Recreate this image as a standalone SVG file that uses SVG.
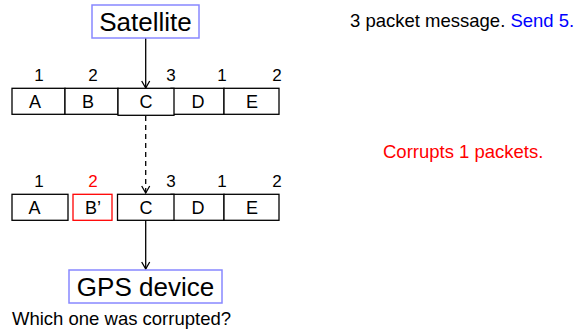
<svg xmlns="http://www.w3.org/2000/svg" width="575" height="331" viewBox="0 0 575 331">
<style>
text{font-family:"Liberation Sans",Arial,sans-serif;fill:#000}
.big{font-size:26px;text-anchor:middle}
.lbl{font-size:18px;text-anchor:middle}
.num{font-size:17px;text-anchor:middle}
.note{font-size:18.5px}
.pk{fill:#fff;stroke:#000;stroke-width:1.3}
.node{fill:#fff;stroke:#8888ff;stroke-width:1.5}
.red{fill:#ff0000}
.blue{fill:#0000ff}
.conn{stroke:#000;stroke-width:1.3;fill:none}
</style>
<defs>
<marker id="ah" markerWidth="10" markerHeight="10" refX="8" refY="5" orient="auto" markerUnits="userSpaceOnUse">
<path d="M1,1 L8,5 L1,9" fill="none" stroke="#000" stroke-width="1.3"/>
</marker>
</defs>
<g id="connectors">
<line class="conn" x1="145.7" y1="38" x2="145.7" y2="88" marker-end="url(#ah)"/>
<line class="conn" x1="145.7" y1="116" x2="145.7" y2="193" stroke-dasharray="5,4" marker-end="url(#ah)"/>
<line class="conn" x1="145.7" y1="220" x2="145.7" y2="269" marker-end="url(#ah)"/>
</g>
<g id="satellite">
<rect class="node" x="92" y="5" width="107" height="33"/>
<text class="big" x="145.5" y="31">Satellite</text>
</g>
<g id="row1">
<rect class="pk" x="12" y="88.3" width="53" height="26"/>
<rect class="pk" x="65" y="88.3" width="53" height="26"/>
<rect class="pk" x="171" y="88.3" width="53" height="26"/>
<rect class="pk" x="224" y="88.3" width="55" height="26"/>
<rect class="pk" x="118" y="88.3" width="56" height="27"/>
<text class="lbl" x="35" y="108">A</text>
<text class="lbl" x="88" y="108">B</text>
<text class="lbl" x="146" y="108">C</text>
<text class="lbl" x="198" y="108">D</text>
<text class="lbl" x="252" y="108">E</text>
<text class="num" x="39" y="81">1</text>
<text class="num" x="93" y="81">2</text>
<text class="num" x="171" y="81">3</text>
<text class="num" x="222" y="81">1</text>
<text class="num" x="277" y="81">2</text>
</g>
<g id="row2">
<rect class="pk" x="12" y="194.3" width="56" height="26"/>
<rect class="pk" x="73" y="194.3" width="39" height="26" style="stroke:#ff0000"/>
<rect class="pk" x="171" y="194.3" width="53" height="26"/>
<rect class="pk" x="224" y="194.3" width="55" height="26"/>
<rect class="pk" x="117.5" y="194.3" width="56.5" height="26"/>
<text class="lbl" x="34.5" y="214">A</text>
<text class="lbl" x="93" y="214">B’</text>
<text class="lbl" x="146" y="214">C</text>
<text class="lbl" x="198" y="214">D</text>
<text class="lbl" x="252" y="214">E</text>
<text class="num" x="39" y="187">1</text>
<text class="num red" x="93" y="187">2</text>
<text class="num" x="171" y="187">3</text>
<text class="num" x="222" y="187">1</text>
<text class="num" x="277" y="187">2</text>
</g>
<g id="gps">
<rect class="node" x="69" y="270" width="153" height="33"/>
<text class="big" x="145.5" y="296">GPS device</text>
</g>
<text class="note" x="12" y="325">Which one was corrupted?</text>
<text class="note" x="350" y="27">3 packet message. <tspan class="blue">Send 5.</tspan></text>
<text class="note red" x="383" y="158">Corrupts 1 packets.</text>
</svg>
